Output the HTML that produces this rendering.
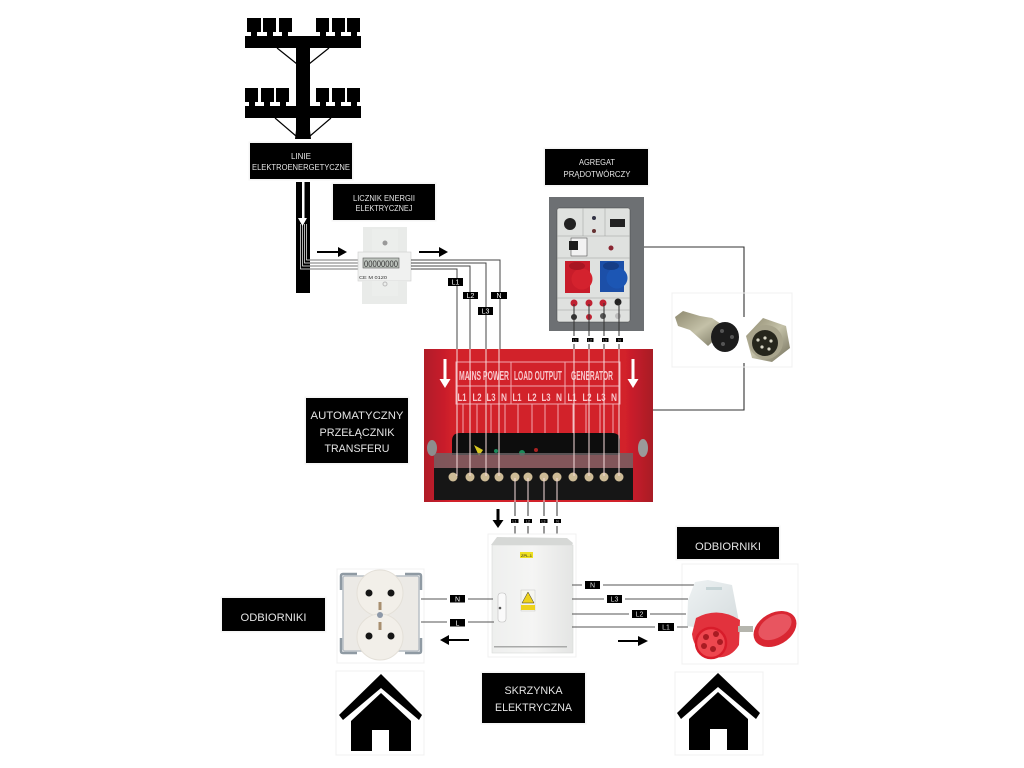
<!DOCTYPE html>
<html lang="pl"><head><meta charset="utf-8"><title>Schemat</title>
<style>html,body{margin:0;padding:0;background:#fff}svg{display:block}text{font-family:"Liberation Sans",sans-serif}</style></head>
<body>
<svg width="1024" height="768" viewBox="0 0 1024 768" xmlns="http://www.w3.org/2000/svg">
<defs>
<linearGradient id="red" x1="0" x2="1" y1="0" y2="0"><stop offset="0" stop-color="#b01c28"/><stop offset=".12" stop-color="#d2202c"/><stop offset=".88" stop-color="#d2202c"/><stop offset="1" stop-color="#a81a26"/></linearGradient>
<linearGradient id="cab" x1="0" x2="1" y1="0" y2="0"><stop offset="0" stop-color="#eeefee"/><stop offset=".5" stop-color="#f5f5f4"/><stop offset="1" stop-color="#e4e5e4"/></linearGradient>
<linearGradient id="metal" x1="0" x2="1" y1="0" y2="1"><stop offset="0" stop-color="#8f8a70"/><stop offset=".5" stop-color="#c4c1a8"/><stop offset="1" stop-color="#6f6c58"/></linearGradient>
<linearGradient id="body" x1="0" x2="1" y1="0" y2="1"><stop offset="0" stop-color="#eef2f3"/><stop offset="1" stop-color="#d5dcde"/></linearGradient>
<filter id="soft" x="-5%" y="-5%" width="110%" height="110%"><feGaussianBlur stdDeviation=".35"/></filter>
</defs>

<!-- utility pole -->
<g fill="#000">
<rect x="245" y="36" width="116" height="12"/><rect x="245" y="106" width="116" height="12"/>
<polygon points="296,36 310,36 310,130 311,139 295,139 296,130"/>
<rect x="247" y="18" width="14" height="14"/><rect x="251" y="32" width="6" height="4"/>
<rect x="263" y="18" width="13" height="14"/><rect x="267" y="32" width="6" height="4"/>
<rect x="279" y="18" width="13" height="14"/><rect x="282" y="32" width="6" height="4"/>
<rect x="316" y="18" width="13" height="14"/><rect x="320" y="32" width="6" height="4"/>
<rect x="332" y="18" width="13" height="14"/><rect x="335" y="32" width="6" height="4"/>
<rect x="347" y="18" width="13" height="14"/><rect x="351" y="32" width="6" height="4"/>
<rect x="245" y="88" width="13" height="14"/><rect x="249" y="102" width="6" height="4"/>
<rect x="261" y="88" width="13" height="14"/><rect x="264" y="102" width="6" height="4"/>
<rect x="276" y="88" width="13" height="14"/><rect x="280" y="102" width="6" height="4"/>
<rect x="316" y="88" width="13" height="14"/><rect x="320" y="102" width="6" height="4"/>
<rect x="332" y="88" width="13" height="14"/><rect x="335" y="102" width="6" height="4"/>
<rect x="347" y="88" width="13" height="14"/><rect x="351" y="102" width="6" height="4"/>
</g>
<g stroke="#000" stroke-width="1.200"><line x1="277" y1="48" x2="297" y2="64"/><line x1="329" y1="48" x2="309" y2="64"/><line x1="275" y1="118" x2="296" y2="136"/><line x1="331" y1="118" x2="310" y2="136"/></g>

<!-- label boxes -->
<g fill="#000" stroke="#f5f5f5" stroke-width="3" paint-order="stroke">
<rect x="250" y="143" width="102" height="36"/>
<rect x="333" y="184" width="102" height="36"/>
<rect x="545" y="149" width="103" height="36"/>
<rect x="306" y="398" width="102" height="65"/>
<rect x="222" y="598" width="103" height="33"/>
<rect x="677" y="527" width="102" height="32"/>
<rect x="482" y="673" width="103" height="50"/>
</g>
<g fill="#e4e4e4" text-anchor="middle">
<text x="301" y="159" font-size="8">LINIE</text>
<text x="301" y="170" font-size="8" textLength="98" lengthAdjust="spacingAndGlyphs">ELEKTROENERGETYCZNE</text>
<text x="384" y="201" font-size="8" textLength="62" lengthAdjust="spacingAndGlyphs">LICZNIK ENERGII</text>
<text x="384" y="211" font-size="8" textLength="57" lengthAdjust="spacingAndGlyphs">ELEKTRYCZNEJ</text>
<text x="597" y="165" font-size="8" textLength="36" lengthAdjust="spacingAndGlyphs">AGREGAT</text>
<text x="597" y="177" font-size="8" textLength="67" lengthAdjust="spacingAndGlyphs">PRĄDOTWÓRCZY</text>
<text x="357" y="419" font-size="11" textLength="93" lengthAdjust="spacingAndGlyphs">AUTOMATYCZNY</text>
<text x="357" y="436" font-size="11" textLength="75" lengthAdjust="spacingAndGlyphs">PRZEŁĄCZNIK</text>
<text x="357" y="452" font-size="11" textLength="65" lengthAdjust="spacingAndGlyphs">TRANSFERU</text>
<text x="273.500" y="621" font-size="11" textLength="66" lengthAdjust="spacingAndGlyphs">ODBIORNIKI</text>
<text x="728" y="550" font-size="11" textLength="66" lengthAdjust="spacingAndGlyphs">ODBIORNIKI</text>
<text x="533.500" y="694" font-size="11" textLength="58" lengthAdjust="spacingAndGlyphs">SKRZYNKA</text>
<text x="533.500" y="711" font-size="11" textLength="77" lengthAdjust="spacingAndGlyphs">ELEKTRYCZNA</text>
</g>

<!-- bar with wires -->
<rect x="296" y="182" width="14" height="111" fill="#000"/>
<rect x="302" y="182" width="2.500" height="38" fill="#fff"/>
<polygon points="298,218 307,218 302.500,226" fill="#fff"/>
<g fill="none" stroke="#fff" stroke-width=".7">
<path d="M300.500 224V269H310"/><path d="M302.500 224V266H310"/><path d="M304.500 224V263H310"/><path d="M306.500 224V260H310"/>
</g>
<g stroke="#777" stroke-width="1.100" fill="none">
<path d="M310 260H358M310 263H358M310 266H358M310 269H358"/>
</g>

<!-- meter -->
<g filter="url(#soft)">
<rect x="363" y="227" width="44" height="27" fill="#e9ebe9"/>
<rect x="372" y="229" width="26" height="24" fill="#eceeec"/>
<circle cx="385" cy="243" r="2.500" fill="#999"/>
<rect x="358" y="252" width="53" height="29" fill="#f0f1f0" stroke="#ccc" stroke-width=".6"/>
<rect x="363" y="258" width="36" height="10" fill="#bcc2bc" stroke="#555" stroke-width=".6"/>
<text x="381" y="267" font-size="9" fill="#333" text-anchor="middle" textLength="34" lengthAdjust="spacingAndGlyphs">00000000</text>
<text x="359" y="279" font-size="4.500" fill="#333" textLength="28" lengthAdjust="spacingAndGlyphs">CE M 0120</text>
<rect x="362" y="281" width="45" height="23" fill="#e9ebe9"/>
<rect x="372" y="281" width="26" height="15" fill="#eceeec"/>
<circle cx="385" cy="284" r="2" fill="none" stroke="#bbb"/>
</g>

<!-- arrows -->
<g fill="#000">
<path d="M317 251h21v-4l9 5-9 5v-4h-21z"/>
<path d="M419 251h20v-4l9 5-9 5v-4h-20z"/>
<path d="M469 639h-20v-4l-9 5 9 5v-4h20z"/>
<path d="M618 640h20v-4l10 5-10 5v-4h-20z"/>
<path d="M496.500 509h3v11h4l-5.500 8-5.500-8h4z"/>
</g>

<!-- mains lines -->
<g stroke="#444" stroke-width="1" fill="none">
<path d="M411 260H500V349"/><path d="M411 263H486V349"/><path d="M411 266H470V349"/><path d="M411 269H457V349"/>
</g>
<g>
<rect x="448" y="278" width="15" height="8" fill="#000"/><rect x="463" y="292" width="15" height="7" fill="#000"/>
<rect x="478" y="307" width="15" height="8" fill="#000"/><rect x="491" y="292" width="16" height="7" fill="#000"/>
<g fill="#fff" font-size="7" text-anchor="middle"><text x="455.500" y="284.500">L1</text><text x="470.500" y="298">L2</text><text x="485.500" y="313.500">L3</text><text x="499" y="298">N</text></g>
</g>

<!-- generator panel -->
<g filter="url(#soft)">
<rect x="549" y="197" width="95" height="134" fill="#6d7073"/>
<rect x="557" y="208" width="73" height="114" rx="2" fill="#dfe1df" stroke="#444" stroke-width=".5"/>
<path d="M557 236H630M557 258H630M557 298H630M557 310H630M583 208V236M605 208V236" stroke="#9a9c9a" stroke-width=".5" fill="none"/>
<circle cx="570" cy="224" r="6" fill="#222"/><circle cx="594" cy="218" r="2" fill="#334"/><circle cx="594" cy="231" r="2" fill="#633"/>
<rect x="610" y="219" width="15" height="8" fill="#222"/>
<rect x="571" y="238" width="16" height="18" fill="#f2f2f2" stroke="#333" stroke-width=".5"/><rect x="569" y="241" width="9" height="9" fill="#1c1c1c"/>
<circle cx="611" cy="248" r="2.500" fill="#8a2530"/>
<rect x="565" y="261" width="25" height="32" fill="#c81e2a"/><circle cx="582" cy="279" r="10.500" fill="#d4222e"/><ellipse cx="577" cy="266" rx="8" ry="4" fill="#a81722"/>
<rect x="600" y="261" width="24" height="31" fill="#1a4fa8"/><circle cx="617" cy="278" r="10.500" fill="#1c56b4"/><ellipse cx="611" cy="266" rx="8" ry="4" fill="#123e86"/>
<g fill="#c02030"><circle cx="574" cy="303" r="3.500"/><circle cx="589" cy="303" r="3.500"/><circle cx="603" cy="303" r="3.500"/></g><circle cx="618" cy="302" r="3.500" fill="#222"/>
<circle cx="574" cy="317" r="3" fill="#333"/><circle cx="589" cy="317" r="3" fill="#c02030"/><circle cx="603" cy="316" r="3" fill="#555"/><circle cx="618" cy="316" r="3" fill="#bbb"/>
</g>

<!-- connector wire -->
<g stroke="#333" stroke-width="1.100" fill="none">
<path d="M644 247H744V317"/><path d="M744 363V410H653"/>
</g>

<!-- circular connector photo -->
<rect x="672" y="293" width="120" height="74" fill="none" stroke="#f0f0f0"/>
<g filter="url(#soft)">
<polygon points="675,317 683,311 700,316 712,318 727,328 708,346 690,330 678,326" fill="url(#metal)"/>
<ellipse cx="725" cy="337" rx="14" ry="15" fill="#1b1b1d"/>
<g fill="#555"><circle cx="722" cy="331" r="2"/><circle cx="732" cy="337" r="2"/><circle cx="723" cy="344" r="2"/></g>
<polygon points="763,318 786,326 790,348 772,362 752,358 746,336" fill="url(#metal)"/>
<circle cx="766" cy="342" r="17" fill="#a8a48c"/>
<circle cx="765" cy="343" r="13" fill="#26261f"/>
<g fill="#d8d6c4"><circle cx="758" cy="340" r="1.600"/><circle cx="765" cy="338" r="1.600"/><circle cx="771" cy="341" r="1.600"/><circle cx="762" cy="347" r="1.600"/><circle cx="769" cy="349" r="1.600"/></g>
</g>

<!-- transfer switch -->
<g filter="url(#soft)">
<rect x="424" y="349" width="229" height="153" fill="url(#red)"/>
<g fill="none" stroke="#f2a6ae" stroke-width="1"><rect x="456" y="362" width="164" height="42"/><path d="M456 386H620M511 362V404M565 362V404"/>
<path d="M463 404V434M477 404V434M491 404V434M505 404V434M518 404V434M532 404V434M545 404V434M558 404V434M573 404V434M586 404V434M600 404V434M613 404V434"/></g>
<g fill="#f8c8cc" font-size="13" font-weight="bold" text-anchor="middle">
<text x="484" y="380" textLength="50" lengthAdjust="spacingAndGlyphs">MAINS POWER</text>
<text x="538" y="380" textLength="48" lengthAdjust="spacingAndGlyphs">LOAD OUTPUT</text>
<text x="592" y="380" textLength="42" lengthAdjust="spacingAndGlyphs">GENERATOR</text>
</g>
<g fill="#f8c8cc" font-size="11" font-weight="bold" text-anchor="middle">
<text x="462" y="401" textLength="9" lengthAdjust="spacingAndGlyphs">L1</text><text x="477" y="401" textLength="9" lengthAdjust="spacingAndGlyphs">L2</text><text x="491" y="401" textLength="9" lengthAdjust="spacingAndGlyphs">L3</text><text x="504" y="401" textLength="6" lengthAdjust="spacingAndGlyphs">N</text>
<text x="517" y="401" textLength="9" lengthAdjust="spacingAndGlyphs">L1</text><text x="532" y="401" textLength="9" lengthAdjust="spacingAndGlyphs">L2</text><text x="546" y="401" textLength="9" lengthAdjust="spacingAndGlyphs">L3</text><text x="559" y="401" textLength="6" lengthAdjust="spacingAndGlyphs">N</text>
<text x="572" y="401" textLength="9" lengthAdjust="spacingAndGlyphs">L1</text><text x="587" y="401" textLength="9" lengthAdjust="spacingAndGlyphs">L2</text><text x="601" y="401" textLength="9" lengthAdjust="spacingAndGlyphs">L3</text><text x="614" y="401" textLength="6" lengthAdjust="spacingAndGlyphs">N</text>
</g>
<path d="M443.500 359h3v20h4l-5.500 9-5.500-9h4z" fill="#fff"/>
<path d="M631.500 359h3v20h4l-5.500 9-5.500-9h4z" fill="#fff"/>
<path d="M452 455V441q0-8 8-8h152q8 0 8 8V455z" fill="#0c0c0c"/>
<polygon points="474,445 483,450 479,456" fill="#d8c820"/><circle cx="496" cy="451" r="2" fill="#1d8a5a"/><circle cx="522" cy="453" r="3" fill="#1d8a5a"/><circle cx="536" cy="450" r="2" fill="#a82020"/>
<rect x="434" y="453" width="199" height="15" fill="#6e6466" opacity=".8"/>
<rect x="434" y="468" width="199" height="32" fill="#141212"/>
<g fill="#cdbb96"><circle cx="453" cy="477" r="4.500"/><circle cx="470" cy="477" r="4.500"/><circle cx="485" cy="477" r="4.500"/><circle cx="499" cy="477" r="4.500"/><circle cx="515" cy="477" r="4.500"/><circle cx="528" cy="477" r="4.500"/><circle cx="544" cy="477" r="4.500"/><circle cx="557" cy="477" r="4.500"/><circle cx="573" cy="477" r="4.500"/><circle cx="589" cy="477" r="4.500"/><circle cx="604" cy="477" r="4.500"/><circle cx="619" cy="477" r="4.500"/></g>
<ellipse cx="432" cy="448" rx="5" ry="8" fill="#8d8d8d"/><ellipse cx="643" cy="448" rx="5" ry="9" fill="#9a9a9a"/>
</g>

<!-- lines into switch: light over the red panel, dark outside -->
<g stroke="#f7dcdc" stroke-width="1" fill="none">
<path d="M457 349V476M470 349V476M486 349V476M499 349V476M574 349V476M589 349V476M604 349V476M619 349V476M515 478V502M528 478V502M544 478V502M557 478V502"/>
</g>
<g stroke="#333" stroke-width="1" fill="none"><path d="M574 304V349M589 304V349M604 303V349M619 303V349M515 502V538M528 502V538M544 502V538M557 502V538"/></g>

<!-- tiny labels -->
<g fill="#fff"><rect x="568" y="336" width="14" height="8"/><rect x="584" y="336" width="13" height="8"/><rect x="598" y="336" width="13" height="8"/><rect x="612" y="336" width="14" height="8"/>
<rect x="508" y="516" width="13" height="10"/><rect x="522" y="516" width="13" height="10"/><rect x="538" y="516" width="12" height="10"/><rect x="551" y="516" width="12" height="10"/></g>
<g fill="#000"><rect x="572" y="338" width="6.500" height="4"/><rect x="587" y="338" width="6.500" height="4"/><rect x="602" y="338" width="6.500" height="4"/><rect x="616" y="338" width="7" height="4"/>
<rect x="511" y="519" width="7.500" height="4"/><rect x="524" y="519" width="8" height="4"/><rect x="540" y="519" width="7.500" height="4"/><rect x="554" y="519" width="7" height="4"/></g>
<g fill="#ccc" font-size="3.500" text-anchor="middle"><text x="575" y="341.500">L1</text><text x="590" y="341.500">L2</text><text x="605" y="341.500">L3</text><text x="619.500" y="341.500">N</text>
<text x="514.500" y="522.500">L1</text><text x="528" y="522.500">L2</text><text x="543.500" y="522.500">L3</text><text x="557.500" y="522.500">N</text></g>

<!-- cabinet -->
<rect x="488" y="534" width="88" height="123" fill="#fff" stroke="#f1f1f1"/>
<g filter="url(#soft)">
<polygon points="491,545 497,537 567,538 573,543 572,545" fill="#d6d8d6"/>
<rect x="492" y="545" width="81" height="108" fill="url(#cab)" stroke="#d8d9d8" stroke-width=".6"/>
<rect x="494" y="646" width="73" height="1.500" fill="#a9aaa9"/>
<rect x="520" y="552" width="13" height="6" fill="#eee020"/>
<text x="526.500" y="557" font-size="4" fill="#222" text-anchor="middle">ZPL-1</text>
<rect x="521" y="590" width="14" height="21" fill="#f6f6f0" stroke="#bbb" stroke-width=".4"/>
<polygon points="528,592 534,603 522,603" fill="#eed21a" stroke="#333" stroke-width=".5"/>
<rect x="521" y="605" width="14" height="5" fill="#eed21a"/>
<rect x="498" y="593" width="8" height="29" rx="3" fill="#fafafa" stroke="#bbb" stroke-width=".6"/>
<circle cx="500" cy="608" r="1.300" fill="#555"/>
</g>

<!-- socket -->
<rect x="337" y="569" width="87" height="94" fill="#fff" stroke="#f0f0f0"/>
<g filter="url(#soft)">
<rect x="343" y="576" width="76" height="75" rx="2" fill="#eceae6" stroke="#b9c0c6" stroke-width="1.500"/>
<path d="M341 590V576q0-2 2-2h14M421 590V576q0-2-2-2h-14M341 638V651q0 2 2 2h14M421 638V651q0 2-2 2h-14" stroke="#8f9aa3" stroke-width="2.500" fill="none"/>
<circle cx="380" cy="593" r="23" fill="#f2efe9" stroke="#e4e0d8"/><circle cx="380" cy="637" r="23" fill="#f2efe9" stroke="#e4e0d8"/>
<g fill="#151515"><circle cx="369" cy="593" r="3.500"/><circle cx="391" cy="593" r="3.500"/><circle cx="369" cy="636" r="3.500"/><circle cx="391" cy="636" r="3.500"/></g>
<rect x="378.500" y="602" width="3" height="8" fill="#a88f70"/><rect x="378.500" y="622" width="3" height="8" fill="#a88f70"/>
<circle cx="380" cy="615" r="3" fill="#8d98a8"/>
</g>

<!-- consumer wires left -->
<g stroke="#555" stroke-width="1" fill="none"><path d="M421 599H493M421 622H494"/></g>
<rect x="447" y="593" width="21" height="13" fill="#fff"/><rect x="447" y="617" width="21" height="12" fill="#fff"/>
<rect x="450" y="595" width="15" height="7.500" fill="#000"/><rect x="450" y="619" width="15" height="7.500" fill="#000"/>
<g fill="#fff" font-size="7" text-anchor="middle"><text x="457.500" y="601.500">N</text><text x="457.500" y="625.500">L</text></g>

<!-- plug -->
<rect x="682" y="564" width="116" height="100" fill="#fff" stroke="#f0f0f0"/>
<g stroke="#555" stroke-width="1" fill="none"><path d="M572 585H695M572 599H688M572 614H686M572 627H688"/></g>
<g fill="#fff"><rect x="582" y="581" width="21" height="11"/><rect x="604" y="593" width="21" height="13"/><rect x="629" y="608" width="21" height="12"/><rect x="655" y="621" width="22" height="13"/></g>
<g fill="#000"><rect x="585" y="581" width="15" height="8"/><rect x="607" y="595" width="15" height="8"/><rect x="632" y="610" width="15" height="8"/><rect x="658" y="623" width="16" height="8"/></g>
<g fill="#ddd" font-size="7" text-anchor="middle"><text x="592.500" y="587.500">N</text><text x="614.500" y="601.500">L3</text><text x="639.500" y="616.500">L2</text><text x="666" y="629.500">L1</text></g>
<g filter="url(#soft)">
<polygon points="695,582 708,580 732,585 739,622 700,628 687,626 688,600" fill="url(#body)"/>
<rect x="706" y="587" width="16" height="3" fill="#c6d4d6"/>
<path d="M696 618Q718 606 740 620L739 645Q730 660 712 657Q694 652 692 634Z" fill="#e2303c"/>
<circle cx="711" cy="643" r="15" fill="#ee4650" stroke="#d81f2c" stroke-width="2.500"/>
<g fill="#a81a24"><circle cx="706" cy="637" r="3"/><circle cx="716" cy="634" r="3"/><circle cx="720" cy="642" r="3"/><circle cx="713" cy="649" r="3"/><circle cx="704" cy="646" r="3"/></g>
<ellipse cx="775" cy="629" rx="23" ry="16" transform="rotate(-30 775 629)" fill="#d92833"/>
<ellipse cx="775" cy="627" rx="18" ry="11" transform="rotate(-30 775 627)" fill="#e85560"/>
<rect x="738" y="626" width="15" height="6" fill="#b5b5ad"/>
</g>

<!-- houses -->
<rect x="336" y="671" width="88" height="84" fill="none" stroke="#f0f0f0"/>
<rect x="675" y="672" width="88" height="83" fill="none" stroke="#f0f0f0"/>
<g fill="#000">
<polygon points="381,674 422,715 419,720 381,688 343,720 339,715"/>
<path d="M381 693L411 721V751H389V730H372V751H351V721Z"/>
<polygon points="718,673 760,713 756,719 718,687 681,719 677,713"/>
<path d="M718 692L748 719V750H727V729H710V750H689V719Z"/>
</g>
</svg>
</body></html>
